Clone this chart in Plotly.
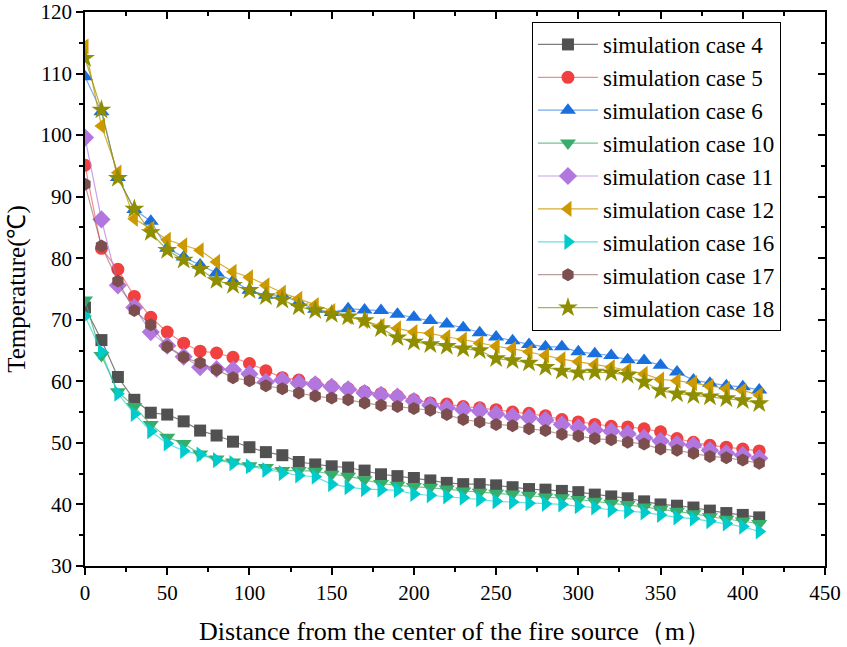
import plotly.graph_objects as go

distance = [i * 10 for i in range(42)]

case4 = [72.0, 66.7, 60.7, 57.0, 54.9, 54.6, 53.5, 52.0, 51.2, 50.2, 49.3, 48.5, 48.0, 46.9,
         46.5, 46.2, 46.0, 45.5, 44.9, 44.6, 44.3, 43.9, 43.5, 43.3, 43.3, 43.1, 42.8, 42.5, 42.4,
         42.2, 42.0, 41.6, 41.3, 41.0, 40.5, 40.0, 39.8, 39.5, 39.0, 38.6, 38.3, 37.9]
case5 = [95.1, 81.6, 78.2, 73.8, 70.4, 68.0, 66.2, 64.9, 64.6, 63.9, 62.9, 61.7, 60.6, 60.2,
         59.6, 59.2, 58.8, 58.3, 58.0, 57.6, 57.0, 56.5, 56.3, 55.9, 55.7, 55.4, 55.0, 54.8, 54.4,
         53.8, 53.4, 53.0, 52.7, 52.6, 52.3, 51.8, 50.7, 50.1, 49.6, 49.3, 49.0, 48.7]
case6 = [109.5, 103.8, 93.1, 87.9, 86.0, 81.6, 80.2, 78.9, 77.6, 76.3, 74.8, 74.0, 74.0, 72.8,
         71.7, 71.2, 71.8, 71.6, 71.5, 70.9, 70.4, 69.9, 69.3, 68.7, 67.9, 67.2, 66.6, 66.0, 65.6,
         65.6, 64.8, 64.5, 64.2, 63.5, 63.4, 62.6, 61.5, 60.2, 59.7, 59.3, 59.1, 58.6]
case10 = [73.2, 64.2, 58.3, 55.9, 53.0, 50.9, 49.9, 48.2, 47.4, 46.9, 46.3, 46.0, 45.5, 45.5,
          45.4, 44.9, 44.6, 44.0, 43.4, 43.1, 42.9, 42.8, 42.5, 42.2, 42.0, 41.8, 41.7, 41.5, 41.2,
          41.1, 40.8, 40.5, 40.2, 40.0, 39.6, 39.2, 38.9, 38.5, 38.0, 37.6, 37.3, 36.9]
case11 = [99.6, 86.3, 75.6, 72.0, 68.0, 65.8, 64.0, 62.3, 62.0, 61.9, 61.2, 59.9, 60.2, 59.7,
          59.5, 59.1, 58.7, 58.1, 57.8, 57.5, 56.8, 56.1, 55.7, 55.4, 55.2, 54.7, 54.3, 54.1, 53.7,
          53.0, 52.5, 52.1, 51.9, 51.5, 50.8, 50.3, 49.8, 49.6, 48.8, 48.3, 48.0, 47.5]
case12 = [114.4, 101.5, 93.9, 86.4, 84.8, 83.0, 82.1, 81.3, 79.4, 77.8, 76.9, 75.6, 74.4, 73.4,
          72.4, 71.4, 70.5, 69.8, 69.0, 68.6, 68.0, 67.8, 67.2, 66.8, 66.2, 65.7, 65.3, 64.8, 64.2,
          63.6, 63.2, 62.7, 62.3, 61.8, 61.2, 60.3, 60.1, 59.7, 59.2, 58.8, 58.5, 57.8]
case16 = [70.6, 64.8, 58.0, 54.7, 51.9, 49.9, 48.7, 48.1, 47.2, 46.7, 46.2, 45.6, 45.1, 44.7,
          44.5, 43.3, 42.8, 42.5, 42.4, 42.3, 41.7, 41.5, 41.3, 41.1, 40.8, 40.5, 40.4, 40.2, 40.1,
          40.0, 39.7, 39.5, 39.1, 38.9, 38.7, 38.3, 37.9, 37.7, 37.3, 36.9, 36.4, 35.6]
case17 = [92.0, 82.0, 76.3, 71.5, 69.2, 65.6, 63.9, 63.0, 61.9, 60.6, 60.1, 59.3, 58.8, 58.1,
          57.6, 57.3, 57.0, 56.5, 56.1, 55.9, 55.6, 55.3, 54.6, 53.8, 53.4, 53.0, 52.8, 52.3, 52.0,
          51.4, 51.1, 50.7, 50.5, 50.1, 49.8, 49.0, 48.8, 48.3, 47.8, 47.6, 47.2, 46.7]
case18 = [112.5, 104.1, 93.0, 88.0, 84.2, 81.3, 79.7, 78.2, 76.4, 75.6, 74.8, 73.8, 73.2, 72.1,
          71.5, 70.9, 70.5, 69.9, 68.6, 67.1, 66.4, 66.0, 65.7, 65.3, 65.0, 63.7, 63.4, 63.0, 62.3,
          61.7, 61.4, 61.5, 61.4, 61.0, 59.9, 58.5, 58.0, 57.7, 57.5, 57.2, 56.9, 56.4]

names = ["simulation case 4", "simulation case 5", "simulation case 6", "simulation case 10",
         "simulation case 11", "simulation case 12", "simulation case 16", "simulation case 17",
         "simulation case 18"]
series = [case4, case5, case6, case10, case11, case12, case16, case17, case18]
colors = ["#515151", "#F14040", "#1A6FDF", "#37AD6B", "#B177DE", "#CC9900", "#00CBCC",
          "#7D4E4E", "#8E8E00"]
line_colors = ["rgba(81,81,81,0.75)", "rgba(241,64,64,0.6)", "rgba(26,111,223,0.6)",
               "rgba(55,173,107,0.7)", "rgba(177,119,222,0.7)", "rgba(204,153,0,0.8)",
               "rgba(0,203,204,0.6)", "rgba(125,78,78,0.55)", "rgba(142,142,0,0.7)"]
symbols = ["square", "circle", "triangle-up", "triangle-down", "diamond", "triangle-left",
           "triangle-right", "hexagon", "star"]
sizes = [12, 13, 14, 14, 14, 14, 14, 13, 15]

FONT = "Liberation Serif, Times New Roman, serif"

fig = go.Figure()
for name, ys, c, lc, s, sz in zip(names, series, colors, line_colors, symbols, sizes):
    fig.add_trace(go.Scatter(
        x=distance, y=ys, name=name, mode="lines+markers",
        line=dict(color=lc, width=1.2),
        marker=dict(symbol=s, size=sz, color=c, line=dict(width=0)),
    ))

# invisible helper trace so that the top/right mirrored axes render
fig.add_trace(go.Scatter(x=[None], y=[None], xaxis="x2", yaxis="y2", showlegend=False,
                         hoverinfo="skip"))

axis_common = dict(showgrid=False, zeroline=False, showline=True, linecolor="black",
                   linewidth=1.5, tickcolor="black", tickwidth=1.5, automargin=False)

fig.update_layout(
    width=847, height=647,
    margin=dict(l=85, r=22, t=12, b=81),
    plot_bgcolor="white", paper_bgcolor="white",
    font=dict(family=FONT, color="black", size=21),
    xaxis=dict(range=[0, 450], tickmode="linear", tick0=0, dtick=50, ticks="outside",
               ticklen=7, minor=dict(ticks="outside", ticklen=4, dtick=25, tickcolor="black",
                                     tickwidth=1.5),
               title=dict(text="Distance from the center of the fire source（m）",
                          font=dict(size=26, family=FONT), standoff=18),
               tickfont=dict(size=21, family=FONT), **axis_common),
    yaxis=dict(range=[30, 120], tickmode="linear", tick0=30, dtick=10, ticks="outside",
               ticklen=7, minor=dict(ticks="outside", ticklen=4, dtick=5, tickcolor="black",
                                     tickwidth=1.5),
               title=dict(text="Temperature(℃)", font=dict(size=25, family=FONT), standoff=8),
               tickfont=dict(size=21, family=FONT), **axis_common),
    xaxis2=dict(range=[0, 450], overlaying="x", side="top", tickmode="linear", tick0=0,
                dtick=50, ticks="inside", ticklen=7, showticklabels=False,
                minor=dict(ticks="inside", ticklen=4, dtick=25, tickcolor="black", tickwidth=1.5),
                **axis_common),
    yaxis2=dict(range=[30, 120], overlaying="y", side="right", tickmode="linear", tick0=30,
                dtick=10, ticks="inside", ticklen=7, showticklabels=False,
                minor=dict(ticks="inside", ticklen=4, dtick=5, tickcolor="black", tickwidth=1.5),
                **axis_common),
    legend=dict(x=0.604, y=0.982, xanchor="left", yanchor="top", bgcolor="white",
                bordercolor="black", borderwidth=1, font=dict(size=23, family=FONT),
                itemwidth=60, tracegroupgap=0),
    showlegend=True,
)

fig.write_html("out.html")
